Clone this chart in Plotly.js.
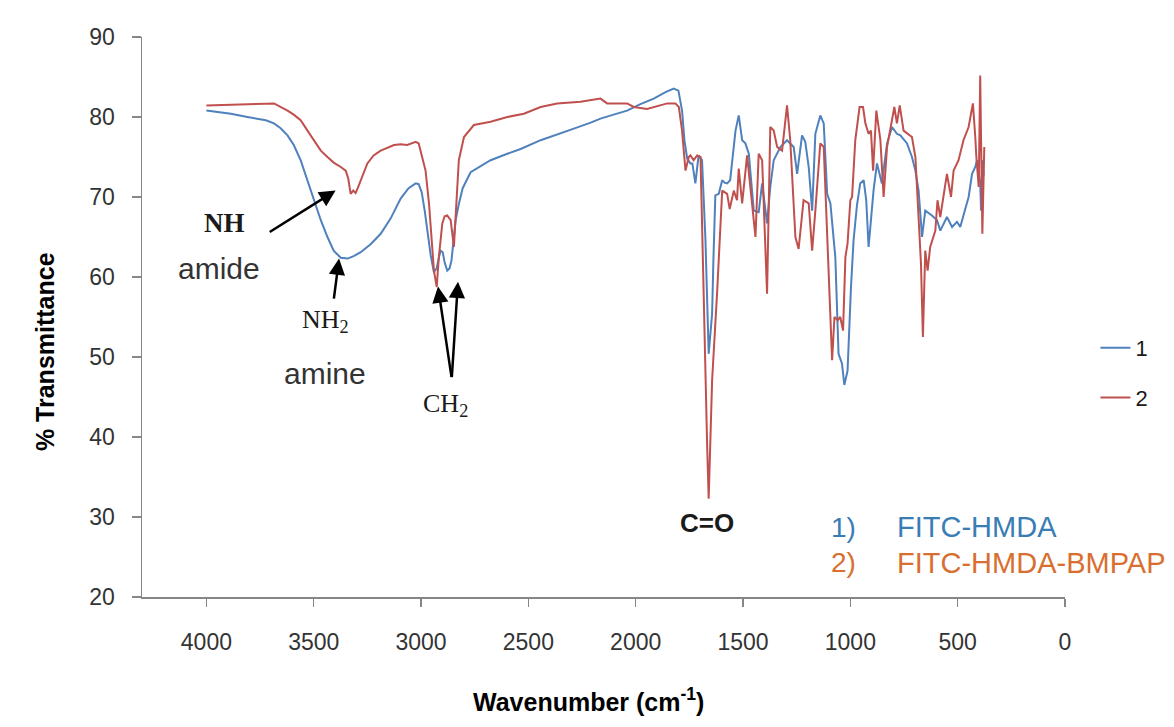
<!DOCTYPE html>
<html>
<head>
<meta charset="utf-8">
<script src="https://cdn.plot.ly/plotly-3.0.1.min.js"></script>
<style>
  html, body { margin: 0; padding: 0; background: #ffffff; }
  #chart { width: 1174px; height: 727px; }
</style>
</head>
<body>
<div id="chart"></div>
<script>
// FT-IR spectra: wavenumber (cm-1) vs % transmittance
// Series 1: FITC-HMDA
const wn1 = [4000, 3886, 3809, 3723, 3685, 3654, 3622, 3593, 3561, 3529, 3499, 3467, 3436, 3407, 3374, 3342, 3314, 3281, 3235, 3188,
  3142, 3095, 3058, 3025, 3011, 2997, 2983, 2969, 2955, 2940, 2927, 2918, 2909, 2899, 2890, 2878, 2867, 2858, 2848, 2839,
  2825, 2806, 2769, 2723, 2676, 2598, 2536, 2443, 2365, 2288, 2210, 2164, 2103, 2040, 1978, 1916, 1861, 1823, 1801, 1784,
  1773, 1760, 1745, 1736, 1722, 1707, 1691, 1675, 1660, 1644, 1638, 1629, 1613, 1597, 1586, 1574, 1560, 1535, 1520, 1504,
  1489, 1473, 1450, 1427, 1411, 1396, 1388, 1373, 1357, 1326, 1295, 1264, 1248, 1225, 1210, 1194, 1178, 1163, 1140, 1124,
  1108, 1093, 1070, 1055, 1039, 1028, 1013, 997, 985, 969, 954, 938, 926, 915, 905, 892, 876, 853, 829, 806,
  783, 767, 736, 713, 697, 682, 666, 651, 620, 596, 581, 550, 526, 503, 488, 465, 449, 433, 418, 410,
  395, 391, 385, 379];
const t1 = [80.8, 80.4, 80.0, 79.6, 79.2, 78.6, 77.7, 76.5, 74.6, 72.1, 69.6, 67.1, 65.0, 63.3, 62.4, 62.3, 62.6, 63.1, 64.1, 65.4,
  67.3, 69.8, 71.1, 71.7, 71.6, 70.6, 68.3, 65.6, 62.7, 60.6, 61.1, 62.3, 63.3, 63.1, 61.8, 60.8, 61.1, 62.1, 64.6, 67.1,
  69.0, 71.1, 73.1, 73.8, 74.6, 75.4, 76.0, 77.1, 77.8, 78.55, 79.3, 79.8, 80.3, 80.8, 81.6, 82.3, 83.1, 83.55, 83.3, 80.8,
  77.1, 74.8, 74.2, 74.2, 71.7, 75.2, 74.6, 64.6, 50.4, 55.4, 62.1, 70.2, 70.4, 72.1, 71.8, 71.7, 72.1, 78.3, 80.2, 77.1,
  76.7, 75.4, 68.3, 68.1, 71.7, 68.75, 66.7, 71.25, 74.6, 76.25, 77.1, 76.25, 72.9, 77.7, 76.9, 73.75, 68.3, 77.9, 80.2, 79.2,
  70.4, 69.2, 62.5, 50.4, 49.2, 46.5, 48.3, 58.75, 64.6, 69.0, 71.7, 72.1, 69.6, 63.75, 67.1, 70.8, 74.2, 71.7, 76.7, 78.75,
  77.9, 77.7, 76.7, 75.0, 73.3, 70.8, 65.0, 68.3, 67.7, 67.1, 65.8, 67.5, 66.25, 66.9, 66.25, 68.3, 70.0, 72.9, 73.75, 74.6,
  71.7, 68.3, 74.6, 72.7];

// Series 2: FITC-HMDA-BMPAP
const wn2 = [4000, 3886, 3793, 3723, 3685, 3654, 3622, 3593, 3561, 3529, 3499, 3467, 3436, 3407, 3374, 3351, 3339, 3328, 3316, 3305,
  3295, 3281, 3250, 3221, 3188, 3126, 3095, 3064, 3039, 3025, 3011, 3002, 2979, 2963, 2951, 2940, 2927, 2917, 2901, 2890,
  2878, 2862, 2847, 2839, 2832, 2824, 2800, 2754, 2676, 2598, 2521, 2443, 2366, 2257, 2164, 2133, 2040, 2009, 1947, 1853,
  1815, 1799, 1784, 1768, 1753, 1745, 1730, 1714, 1698, 1683, 1667, 1660, 1644, 1621, 1597, 1574, 1562, 1543, 1528, 1520,
  1504, 1481, 1458, 1442, 1427, 1411, 1388, 1373, 1357, 1341, 1318, 1295, 1280, 1256, 1241, 1218, 1194, 1178, 1163, 1140,
  1124, 1116, 1101, 1085, 1074, 1059, 1047, 1034, 1023, 1013, 1000, 992, 977, 957, 941, 930, 915, 904, 894, 879,
  860, 845, 829, 811, 795, 783, 770, 752, 733, 713, 697, 682, 671, 662, 651, 640, 628, 604, 594, 581,
  563, 550, 531, 519, 496, 473, 449, 429, 418, 413, 402, 395, 385, 376];
const t2 = [81.45, 81.5, 81.6, 81.65, 81.7, 81.3, 80.8, 80.3, 79.6, 78.3, 77.1, 75.8, 75.0, 74.3, 73.75, 73.3, 72.3, 70.4, 70.8, 70.5,
  71.1, 72.0, 74.2, 75.2, 75.8, 76.5, 76.6, 76.5, 76.8, 76.9, 76.7, 75.8, 73.3, 69.2, 64.6, 60.8, 58.75, 62.5, 66.7, 67.6,
  67.7, 67.1, 63.75, 67.5, 71.5, 74.6, 77.5, 79.0, 79.4, 80.0, 80.4, 81.25, 81.7, 81.9, 82.3, 81.7, 81.7, 81.25, 81.0, 81.7,
  81.7, 81.25, 78.3, 73.3, 75.0, 75.2, 74.6, 75.2, 75.0, 55.4, 38.75, 32.3, 47.1, 57.9, 70.8, 70.4, 68.5, 70.8, 69.6, 73.55,
  69.2, 75.2, 68.75, 65.0, 75.4, 74.6, 57.9, 78.75, 78.3, 76.25, 75.8, 81.45, 77.1, 65.0, 63.5, 69.6, 69.2, 63.3, 68.3, 76.7,
  76.25, 70.8, 62.5, 49.6, 55.0, 54.6, 55.0, 53.3, 62.5, 64.2, 69.6, 70.0, 77.1, 81.25, 81.25, 79.2, 77.9, 78.3, 73.3, 80.8,
  77.1, 70.0, 76.25, 79.2, 81.25, 79.2, 81.45, 78.3, 77.9, 77.5, 75.0, 67.9, 61.7, 52.5, 63.3, 60.8, 63.75, 65.8, 69.6, 67.5,
  70.8, 72.9, 70.0, 73.3, 74.6, 77.1, 78.75, 81.7, 77.5, 75.0, 71.25, 85.2, 65.4, 76.25];

const seriesNames = ['1', '2'];
const seriesColors = ['#4F81BD', '#C0504D'];
const xTickVals = [4000, 3500, 3000, 2500, 2000, 1500, 1000, 500, 0];
const yTickVals = [20, 30, 40, 50, 60, 70, 80, 90];

const sans = 'Liberation Sans, Arial, sans-serif';
const narrow = 'Liberation Sans Narrow, Arial Narrow, Liberation Sans, sans-serif';
const serif = 'Liberation Serif, DejaVu Serif, serif';

const traces = [
  { x: wn1, y: t1, name: seriesNames[0], legendgroup: 'a', type: 'scatter', mode: 'lines',
    line: { color: seriesColors[0], width: 2 } },
  { x: wn2, y: t2, name: seriesNames[1], legendgroup: 'b', type: 'scatter', mode: 'lines',
    line: { color: seriesColors[1], width: 2 } }
];

// band assignment arrows (head at x/y, tail at ax/ay)
function arrow(x, y, ax, ay) {
  return { x: x, y: y, ax: ax, ay: ay, xref: 'x', yref: 'y', axref: 'x', ayref: 'y',
    text: '', showarrow: true, arrowhead: 2, arrowsize: 1.3, arrowwidth: 2.5, arrowcolor: '#000000', standoff: 0 };
}
function label(x, y, txt, font) {
  return { x: x, y: y, xref: 'x', yref: 'y', text: txt, showarrow: false, font: font,
    xanchor: 'center', yanchor: 'middle' };
}
const serifBold = { family: serif, size: 27, color: '#1a1a1a', weight: 'bold' };
const serifReg = { family: serif, size: 26, color: '#1a1a1a' };
const sansLabel = { family: sans, size: 30, color: '#333333' };

const annotations = [
  arrow(3398, 70.8, 3712, 65.5),
  arrow(3382, 62.3, 3407, 57.1),
  arrow(2921, 58.8, 2857, 47.3),
  arrow(2828, 59.4, 2857, 47.3),
  label(3918, 66.7, 'NH', serifBold),
  label(3942, 61.1, 'amide', sansLabel),
  label(3444, 54.5, 'NH<sub>2</sub>', serifReg),
  label(3449, 48.0, 'amine', sansLabel),
  label(2886, 44.0, 'CH<sub>2</sub>', serifReg),
  label(1666, 29.3, 'C=O', { family: narrow, size: 26, color: '#1a1a1a', weight: 'bold' }),
  { x: 1100, y: 28.7, xref: 'x', yref: 'y', text: '1)', showarrow: false, xanchor: 'left', yanchor: 'middle',
    font: { family: sans, size: 28, color: '#3a7db5' } },
  { x: 790, y: 28.7, xref: 'x', yref: 'y', text: 'FITC-HMDA', showarrow: false, xanchor: 'left', yanchor: 'middle',
    font: { family: sans, size: 29, color: '#3a7db5' } },
  { x: 1100, y: 24.3, xref: 'x', yref: 'y', text: '2)', showarrow: false, xanchor: 'left', yanchor: 'middle',
    font: { family: sans, size: 28, color: '#d86f31' } },
  { x: 790, y: 24.3, xref: 'x', yref: 'y', text: 'FITC-HMDA-BMPAP', showarrow: false, xanchor: 'left', yanchor: 'middle',
    font: { family: sans, size: 29, color: '#d86f31' } },
  // axis titles
  { x: -0.105, y: 0.4375, xref: 'paper', yref: 'paper', text: '% Transmittance', textangle: -90, showarrow: false,
    xanchor: 'center', yanchor: 'middle', font: { family: sans, size: 25, color: '#000000', weight: 'bold' } },
  { x: 0.484, y: -0.184, xref: 'paper', yref: 'paper', text: 'Wavenumber (cm<sup>-1</sup>)', showarrow: false,
    xanchor: 'center', yanchor: 'middle', font: { family: sans, size: 25, color: '#000000', weight: 'bold' } }
];

const layout = {
  width: 1174, height: 727,
  margin: { l: 142, r: 109, t: 37, b: 130 },
  paper_bgcolor: '#ffffff', plot_bgcolor: '#ffffff',
  showlegend: true,
  legend: { x: 1.033, y: 0.40, xanchor: 'left', yanchor: 'middle', tracegroupgap: 18,
    font: { family: sans, size: 22, color: '#1a1a1a' }, bgcolor: 'rgba(0,0,0,0)' },
  xaxis: {
    range: [4300, 0], tickvals: xTickVals, ticks: 'outside', ticklen: 8, tickwidth: 1.5, tickcolor: '#868686',
    showline: true, linecolor: '#868686', linewidth: 1.5, showgrid: false, zeroline: false,
    ticklabelstandoff: 16,
    tickfont: { family: sans, size: 23, color: '#333333' }
  },
  yaxis: {
    range: [20, 90], tickvals: yTickVals, ticks: 'outside', ticklen: 9, tickwidth: 1.5, tickcolor: '#868686',
    showline: true, linecolor: '#868686', linewidth: 1.5, showgrid: false, zeroline: false,
    ticklabelstandoff: 12,
    tickfont: { family: sans, size: 23, color: '#333333' }
  },
  annotations: annotations
};

Plotly.newPlot('chart', traces, layout, { displayModeBar: false, staticPlot: true });
</script>
</body>
</html>
